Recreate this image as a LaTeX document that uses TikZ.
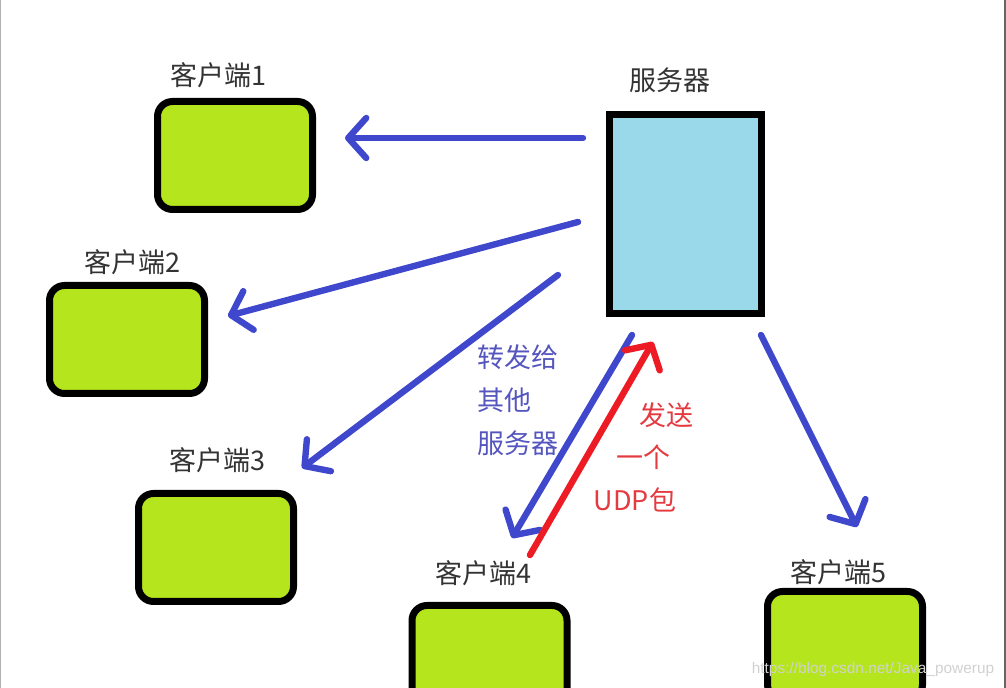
\documentclass[tikz,border=0pt]{standalone}
\usepackage{fontspec}
\newfontfamily\cjk{Noto Sans CJK SC}
\newfontfamily\wmfont{Liberation Sans}
\usetikzlibrary{arrows.meta,positioning}
\definecolor{paintlime}{RGB}{181,230,29}
\definecolor{paintaqua}{RGB}{153,217,234}
\definecolor{paintblue}{RGB}{63,72,204}
\definecolor{paintred}{RGB}{237,28,36}
\definecolor{notetxt}{RGB}{85,85,190}
\definecolor{sendtxt}{RGB}{228,58,64}

\begin{document}
\begin{tikzpicture}[
				x=0.5pt, y=-0.5pt,
				every node/.style={
						font=\cjk\fontsize{13.5pt}{21.5pt}\selectfont,
						text=black!80
					},
				client/.style={draw=black, fill=paintlime, line width=3.5pt,
						rounded corners=7.5pt, minimum width=77.5pt, minimum height=54pt},
				server/.style={draw=black, fill=paintaqua, line width=3.5pt,
						minimum width=76pt, minimum height=99.5pt},
				fwd/.style={paintblue, line width=3.2pt, line cap=round,
						-{Straight Barb[length=9pt,width=20pt,round]}},
				send/.style={fwd, paintred},
				note/.style={text=notetxt, align=left, anchor=west},
				sendnote/.style={text=sendtxt}
			]
			\useasboundingbox (0,0) rectangle (1006,688);
			\draw[black!30, line width=0.6pt] (0.6,0) -- (0.6,688);
			\draw[black!60, line width=0.8pt] (1005,0) -- (1005,688);

			\node[server] (srv) at (685.5,214) {};
			\node (srvname) at (670,80) {服务器};

			\node[client] (c1) at (235,155.5) {};
			\node[client] (c2) at (127,339.5) {};
			\node[client] (c3) at (216,547.5) {};
			\node[client] (c4) at (489.5,659.5) {};
			\node[client] (c5) at (845,645.5) {};

			\node (l1) at (218,75) {客户端1};
			\node (l2) at (132,262) {客户端2};
			\node (l3) at (217,460) {客户端3};
			\node (l4) at (483,573) {客户端4};
			\node (l5) at (838,572) {客户端5};

			% forwarding from the server
			\draw[fwd] ([shift={(-23,27)}]srv.north west) -- ([shift={(29,-17.5)}]c1.east);
			\draw[fwd] ([shift={(-28,8)}]srv.west) -- ([shift={(20,-23.5)}]c2.east);
			\draw[fwd] ([shift={(-48,-42)}]srv.south west) -- ([shift={(5,-22)}]c3.north east);
			\draw[fwd] ([shift={(26,18)}]srv.south west) -- ([shift={(22.5,-64)}]c4.north);
			\draw[fwd] ([shift={(-4,18)}]srv.south east) -- ([shift={(12,-61)}]c5.north);
			% client 4 sends
			\draw[send] ([shift={(40.5,-47)}]c4.north) -- ([shift={(47,25)}]srv.south west);

			\node[note] (fwdnote) at (470,400) {转发给\\其他\\服务器};
			\node[sendnote] (s1) at (666,415) {发送};
			\node[sendnote] (s2) at (643,457) {一个};
			\node[sendnote] (s3) at (635,500) {UDP包};

			\node[font=\wmfont\fontsize{7.7pt}{9pt}\selectfont, text=white!82!black] (wm) at (873,670) {https://blog.csdn.net/Java\_powerup};
		\end{tikzpicture}
\end{document}
